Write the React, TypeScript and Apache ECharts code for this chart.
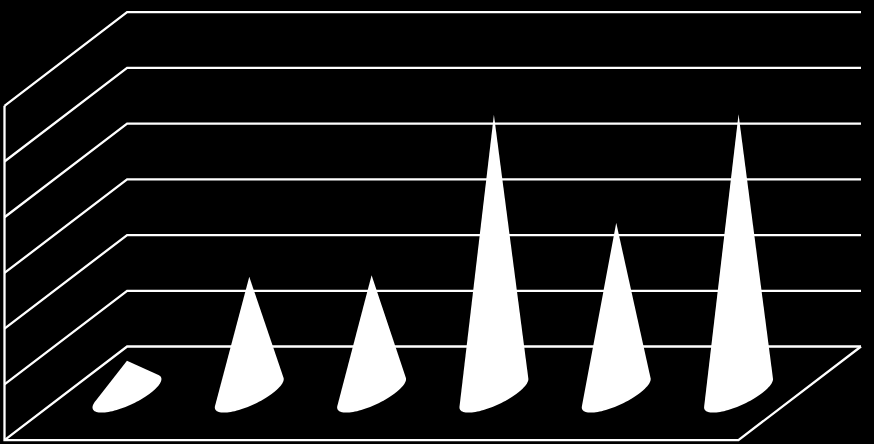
import React, { useEffect, useRef } from "react";
import * as echarts from "echarts";

const categories = ["1", "2", "3", "4", "5", "6"];
const values = [0.585, 2.09, 2.12, 5.0, 3.06, 5.01];
const yTicks = [0, 1, 2, 3, 4, 5, 6];

const WIDTH = 874;
const HEIGHT = 444;
const DEPTH_X = 61.3;
const DEPTH_Y = 46.8;
const BASE_A = 23.3;
const BASE_BX = 25.4;
const BASE_BY = 19.3;
const STROKE = 2.3;

function hull(points: number[][]) {
  const p = points.slice().sort((a, b) => a[0] - b[0] || a[1] - b[1]);
  const cross = (o: number[], a: number[], b: number[]) =>
    (a[0] - o[0]) * (b[1] - o[1]) - (a[1] - o[1]) * (b[0] - o[0]);
  const lower: number[][] = [];
  for (const q of p) {
    while (lower.length >= 2 && cross(lower[lower.length - 2], lower[lower.length - 1], q) <= 0) lower.pop();
    lower.push(q);
  }
  const upper: number[][] = [];
  for (let i = p.length - 1; i >= 0; i--) {
    const q = p[i];
    while (upper.length >= 2 && cross(upper[upper.length - 2], upper[upper.length - 1], q) <= 0) upper.pop();
    upper.push(q);
  }
  return lower.slice(0, -1).concat(upper.slice(0, -1));
}

export default function App() {
  const ref = useRef<HTMLDivElement>(null);
  useEffect(() => {
    document.body.style.margin = "0";
    document.body.style.background = "#000";
    const chart = echarts.init(ref.current!, null, { renderer: "svg" });
    const lineStyle = { stroke: "#fff", lineWidth: STROKE, fill: null };
    chart.setOption({
      animation: false,
      backgroundColor: "#000",
      grid: { left: 65.8, right: 74.3, top: 59, bottom: 50.7 },
      xAxis: { type: "value", min: 0, max: categories.length, show: false },
      yAxis: { type: "value", min: 0, max: 6, interval: 1, show: false },
      series: [
        {
          type: "custom",
          clip: false,
          silent: true,
          data: yTicks.map((t) => [0, t]),
          renderItem: (_p: any, api: any) => {
            const t = api.value(1);
            const a = api.coord([0, t]);
            const b = api.coord([categories.length, t]);
            return {
              type: "polyline",
              shape: {
                points: [
                  [a[0] - DEPTH_X, a[1] + DEPTH_Y],
                  [a[0] + DEPTH_X, a[1] - DEPTH_Y],
                  [b[0] + DEPTH_X, b[1] - DEPTH_Y],
                ],
              },
              style: lineStyle,
            };
          },
        },
        {
          type: "custom",
          clip: false,
          silent: true,
          data: [[0, 0]],
          renderItem: (_p: any, api: any) => {
            const top = api.coord([0, 6]);
            const o = api.coord([0, 0]);
            const r = api.coord([categories.length, 0]);
            return {
              type: "polyline",
              shape: {
                points: [
                  [top[0] - DEPTH_X, top[1] + DEPTH_Y],
                  [o[0] - DEPTH_X, o[1] + DEPTH_Y],
                  [r[0] - DEPTH_X, r[1] + DEPTH_Y],
                  [r[0] + DEPTH_X, r[1] - DEPTH_Y],
                ],
              },
              style: lineStyle,
            };
          },
        },
        {
          type: "custom",
          clip: false,
          silent: true,
          data: values.map((v, i) => [i + 0.5, v]),
          renderItem: (_p: any, api: any) => {
            const x = api.value(0);
            const v = api.value(1);
            const c = api.coord([x, 0]);
            const tip = api.coord([x, v]);
            const pts: number[][] = [tip];
            for (let k = 0; k < 96; k++) {
              const th = (k / 96) * Math.PI * 2;
              pts.push([
                c[0] + Math.cos(th) * BASE_A + Math.sin(th) * BASE_BX,
                c[1] - Math.sin(th) * BASE_BY,
              ]);
            }
            return {
              type: "polygon",
              shape: { points: hull(pts) },
              style: { fill: "#fff", stroke: null },
            };
          },
        },
      ],
    });
    return () => chart.dispose();
  }, []);
  return <div ref={ref} style={{ width: WIDTH, height: HEIGHT, background: "#000" }} />;
}
